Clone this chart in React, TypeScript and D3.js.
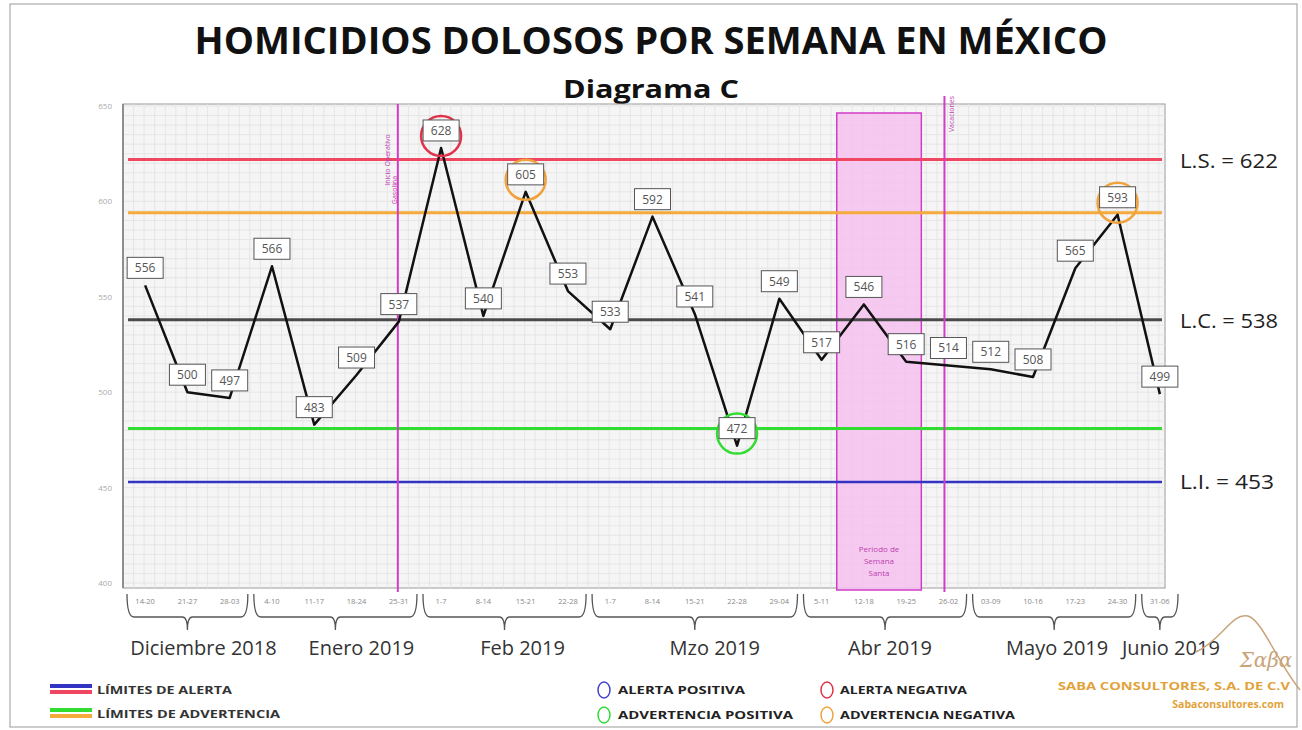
import React from "react";
import * as d3 from "d3";

// semanas (etiquetas del eje x)
const weeks = ["14-20","21-27","28-03","4-10","11-17","18-24","25-31","1-7","8-14","15-21","22-28","1-7","8-14","15-21","22-28","29-04","5-11","12-18","19-25","26-02","03-09","10-16","17-23","24-30","31-06"];
const values = [556,500,497,566,483,509,537,628,540,605,553,533,592,541,472,549,517,546,516,514,512,508,565,593,499];
const months = ["Diciembre 2018","Enero 2019","Feb 2019","Mzo 2019","Abr 2019","Mayo 2019","Junio 2019"];
const monthWeeks = [3,4,4,5,4,4,1];
const yTicks = [400,450,500,550,600,650];
// limites
const LS = 622, LC = 538, LI = 453, ADV_SUP = 594, ADV_INF = 481;
// puntos marcados: indice -> tipo
const marks: [number, string][] = [[7,"alertaNeg"],[9,"advNeg"],[14,"advPos"],[23,"advNeg"]];

const W = 1302, H = 730;
const FONT = "'Open Sans', 'Liberation Sans', sans-serif";
const COL = {
  ls: "#ef4662", adv: "#f5ab3c", lc: "#4a4a4a", advPos: "#30dd30", li: "#3434c4",
  alertaNeg: "#e0334a", advNeg: "#f2a23a", alertaPos: "#4040d0", magenta: "#d23cc8"
};

export default function App() {
  const left = 123, right = 1165, top = 104, bottom = 588;
  const x = d3.scaleBand<number>().domain(d3.range(weeks.length)).range([124, 1181]);
  const bw = x.bandwidth();
  const cx = (i: number) => (x(i) as number) + bw / 2;
  const y = d3.scaleLinear().domain([400, 650]).range([583, 106]);

  const line = d3.line<number>().x((_, i) => cx(i)).y(d => y(d));

  // grid menor
  const hGrid = d3.range(400, 651, 5);
  const vGrid = d3.range(left, right, bw / 4);

  // corrimiento de las etiquetas de mes respecto a la llave
  const monthLabelShift = [16, 26, 18, 20, 5, 3, 11];

  let acc = 0;
  const monthSpans = months.map((m, k) => {
    const s = acc; acc += monthWeeks[k];
    return { name: m, x0: (x(s) as number) + 3, x1: (x(acc - 1) as number) + bw - 3, shift: monthLabelShift[k] };
  });

  const limitLines = [
    { v: LS, c: COL.ls, w: 3 },
    { v: ADV_SUP, c: COL.adv, w: 3 },
    { v: LC, c: COL.lc, w: 3 },
    { v: ADV_INF, c: COL.advPos, w: 3 },
    { v: LI, c: COL.li, w: 2.5 },
  ];

  const pinkX0 = (x(17) as number) - 6, pinkX1 = (x(18) as number) + bw - 6;

  return (
    <div style={{ position: "absolute", left: 0, top: 0 }}>
      <svg width={W} height={H} style={{ display: "block", fontFamily: FONT }}>
        <rect x={0} y={0} width={W} height={H} fill="#fff" />
        <rect x={10} y={4} width={1287} height={723} fill="none" stroke="#999" strokeWidth={1} />

        {/* titulo */}
        <text x={651} y={54} textAnchor="middle" fontSize={38} fontWeight="bold" fill="#111"
          textLength={913} lengthAdjust="spacingAndGlyphs">HOMICIDIOS DOLOSOS POR SEMANA EN MÉXICO</text>
        <text x={651} y={98} textAnchor="middle" fontSize={25} fontWeight="bold" fill="#111"
          textLength={176} lengthAdjust="spacingAndGlyphs">Diagrama C</text>

        {/* area de grafica */}
        <rect x={left} y={top} width={right - left} height={bottom - top} fill="#f5f5f5" stroke="#9a9a9a" strokeWidth={1} />
        {hGrid.map(v => (
          <line key={"h" + v} x1={left} x2={right} y1={y(v)} y2={y(v)} stroke="#e2e2e2" strokeWidth={0.8} />
        ))}
        {vGrid.map((v, i) => (
          <line key={"v" + i} x1={v} x2={v} y1={top} y2={bottom} stroke="#e2e2e2" strokeWidth={0.8} />
        ))}
        <line x1={left} x2={left} y1={top} y2={bottom} stroke="#777" strokeWidth={1.5} />

        {/* periodo semana santa */}
        <rect x={pinkX0} y={113} width={pinkX1 - pinkX0} height={477} fill="#f6c2ef" fillOpacity={0.85} stroke={COL.magenta} strokeWidth={1.5} />
        {["Periodo de", "Semana", "Santa"].map((t, i) => (
          <text key={t} x={(pinkX0 + pinkX1) / 2} y={552 + i * 12} textAnchor="middle" fontSize={8} fill="#c03cb0">{t}</text>
        ))}

        {/* eje y */}
        {yTicks.map(t => (
          <text key={t} x={112} y={y(t) + 3} textAnchor="end" fontSize={8} fill="#aaa">{t}</text>
        ))}

        {/* lineas de limite */}
        {limitLines.map(l => (
          <line key={l.v} x1={128} x2={1162} y1={y(l.v)} y2={y(l.v)} stroke={l.c} strokeWidth={l.w} />
        ))}

        {/* lineas verticales de eventos */}
        <line x1={cx(6) - 1} x2={cx(6) - 1} y1={top} y2={592} stroke={COL.magenta} strokeWidth={2} />
        <text transform={`translate(${cx(6) - 9},160) rotate(-90)`} textAnchor="middle" fontSize={7} fill="#c03cb0">Inicio Operativo</text>
        <text transform={`translate(${cx(6) - 2},190) rotate(-90)`} textAnchor="middle" fontSize={7} fill="#c03cb0">Gasolina</text>
        <line x1={cx(19) - 4} x2={cx(19) - 4} y1={96} y2={592} stroke={COL.magenta} strokeWidth={2} />
        <text transform={`translate(${cx(19) + 6},114) rotate(-90)`} textAnchor="middle" fontSize={7} fill="#c03cb0">Vacaciones</text>

        {/* serie */}
        <path d={line(values) as string} fill="none" stroke="#111" strokeWidth={2.5} strokeLinejoin="round" />

        {/* circulos de alerta */}
        {marks.map(([i, k]) => (
          <circle key={"c" + i} cx={cx(i)} cy={y(values[i]) - 12} r={20} fill="none"
            stroke={(COL as any)[k]} strokeWidth={2.5} />
        ))}

        {/* etiquetas de valor */}
        {values.map((v, i) => (
          <g key={"l" + i} transform={`translate(${cx(i)},${y(v) - 18})`}>
            <rect x={-18} y={-10} width={36} height={21} fill="#fff" stroke="#555" strokeWidth={1} />
            <text x={0} y={5} textAnchor="middle" fontSize={12} fill="#555">{v}</text>
          </g>
        ))}

        {/* etiquetas derecha */}
        <text x={1180} y={168} fontSize={20} fill="#222" textLength={98} lengthAdjust="spacingAndGlyphs">L.S. = {LS}</text>
        <text x={1180} y={328} fontSize={20} fill="#222" textLength={98} lengthAdjust="spacingAndGlyphs">L.C. = {LC}</text>
        <text x={1180} y={489} fontSize={20} fill="#222" textLength={94} lengthAdjust="spacingAndGlyphs">L.I. = {LI}</text>

        {/* eje x */}
        {weeks.map((w, i) => (
          <text key={"w" + i} x={cx(i)} y={604} textAnchor="middle" fontSize={7.5} fill="#888">{w}</text>
        ))}
        {monthSpans.map(m => {
          const mid = (m.x0 + m.x1) / 2;
          const d = `M${m.x0},594 Q${m.x0},617 ${m.x0 + 7},617 L${mid - 5},617 Q${mid},617 ${mid},630 Q${mid},617 ${mid + 5},617 L${m.x1 - 7},617 Q${m.x1},617 ${m.x1},594`;
          return (
            <g key={m.name}>
              <path d={d} fill="none" stroke="#555" strokeWidth={1.3} />
              <text x={mid + m.shift} y={655} textAnchor="middle" fontSize={20} fill="#333">{m.name}</text>
            </g>
          );
        })}

        {/* leyenda */}
        <rect x={50} y={684} width={42} height={4} fill={COL.li} />
        <rect x={50} y={690} width={42} height={4} fill={COL.ls} />
        <rect x={50} y={708} width={42} height={4} fill={COL.advPos} />
        <rect x={50} y={714} width={42} height={4} fill={COL.adv} />
        <text x={97} y={694} fontSize={11} fontWeight="bold" fill="#333" textLength={135} lengthAdjust="spacingAndGlyphs">LÍMITES DE ALERTA</text>
        <text x={97} y={718} fontSize={11} fontWeight="bold" fill="#333" textLength={183} lengthAdjust="spacingAndGlyphs">LÍMITES DE ADVERTENCIA</text>

        <ellipse cx={604} cy={690} rx={6} ry={8} fill="none" stroke={COL.alertaPos} strokeWidth={1.5} />
        <ellipse cx={604} cy={715} rx={6} ry={8} fill="none" stroke={COL.advPos} strokeWidth={1.5} />
        <ellipse cx={827} cy={690} rx={6} ry={8} fill="none" stroke={COL.alertaNeg} strokeWidth={1.5} />
        <ellipse cx={827} cy={715} rx={6} ry={8} fill="none" stroke={COL.advNeg} strokeWidth={1.5} />
        <text x={618} y={694} fontSize={11} fontWeight="bold" fill="#222" textLength={127} lengthAdjust="spacingAndGlyphs">ALERTA POSITIVA</text>
        <text x={618} y={719} fontSize={11} fontWeight="bold" fill="#222" textLength={175} lengthAdjust="spacingAndGlyphs">ADVERTENCIA POSITIVA</text>
        <text x={840} y={694} fontSize={11} fontWeight="bold" fill="#222" textLength={127} lengthAdjust="spacingAndGlyphs">ALERTA NEGATIVA</text>
        <text x={840} y={719} fontSize={11} fontWeight="bold" fill="#222" textLength={175} lengthAdjust="spacingAndGlyphs">ADVERTENCIA NEGATIVA</text>

        {/* logo */}
        <path d="M1196,652 C1222,640 1232,612 1248,616 C1262,620 1276,660 1300,690" fill="none" stroke="#c9a47a" strokeWidth={1.5} />
        <text x={1266} y={667} textAnchor="middle" fontSize={20} fontStyle="italic" fontFamily="'DejaVu Serif', serif" fill="#c9a47a">Σαβα</text>
        <text x={1290} y={690} textAnchor="end" fontSize={10.5} fontWeight="bold" fill="#e2a23a" textLength={232} lengthAdjust="spacingAndGlyphs">SABA CONSULTORES, S.A. DE C.V</text>
        <text x={1284} y={708} textAnchor="end" fontSize={10.5} fontWeight="bold" fill="#e2a23a">Sabaconsultores.com</text>
      </svg>
    </div>
  );
}
